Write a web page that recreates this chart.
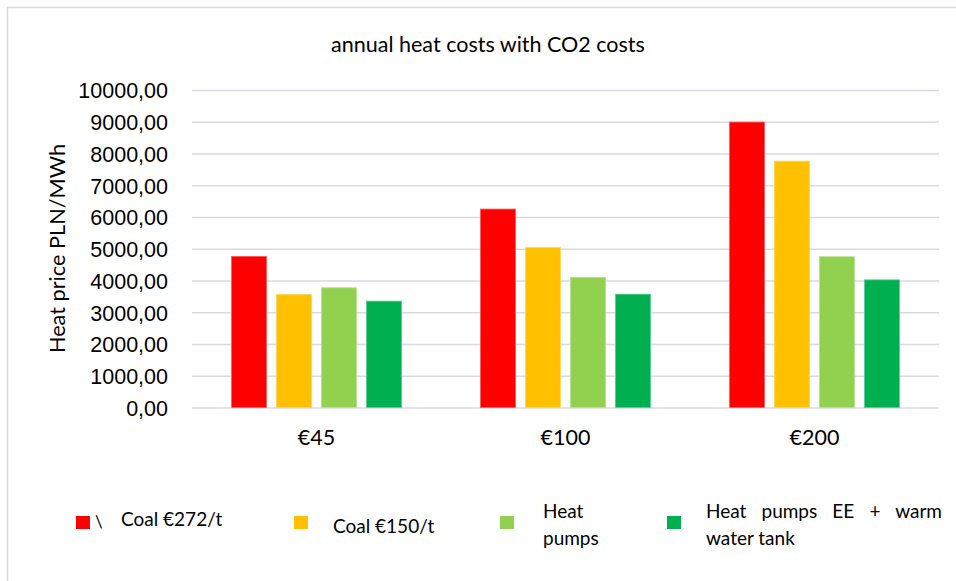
<!DOCTYPE html>
<html>
<head>
<meta charset="utf-8">
<script src="https://cdn.jsdelivr.net/npm/d3@7"></script>
<style>
  body { margin: 0; background: #fff; }
  svg { display: block; font-family: Lato, "Noto Sans", sans-serif; fill: #000; }
</style>
</head>
<body>
<div class="container_graph"></div>
<script>
const categories = ["€45", "€100", "€200"];
const seriesNames = ["Coal €272/t", "Coal €150/t", "Heat pumps", "Heat pumps EE + warm water tank"];
const coal272 = [4760, 6250, 8990];
const coal150 = [3560, 5040, 7760];
const heatPumps = [3770, 4100, 4750];
const heatPumpsTank = [3350, 3570, 4020];
const yTicks = [0, 1000, 2000, 3000, 4000, 5000, 6000, 7000, 8000, 9000, 10000];
const colors = ["#ff0000", "#ffc000", "#92d050", "#00b050"];

const seriesValues = [coal272, coal150, heatPumps, heatPumpsTank];
const width = 956;
const height = 581;
const margin = { top: 90, right: 17, bottom: 173.5, left: 192 };

const svg = d3
  .select(".container_graph")
  .append("svg")
  .attr("width", width)
  .attr("height", height);

// chart area border (only top and left visible)
svg
  .append("rect")
  .attr("x", 7.5)
  .attr("y", 7.5)
  .attr("width", width)
  .attr("height", height)
  .attr("fill", "none")
  .attr("stroke", "#d9d9e6")
  .attr("stroke-width", 1.5);

const x0 = d3
  .scaleBand()
  .domain(categories)
  .range([margin.left, width - margin.right]);

const x1 = d3
  .scaleBand()
  .domain(seriesNames)
  .range([39.5, 209.5])
  .paddingInner(10 / 45);

const y = d3
  .scaleLinear()
  .domain([0, 10000])
  .range([height - margin.bottom, margin.top]);

const fmt = (v) => d3.format(".2f")(v).replace(".", ",");

// gridlines + y labels
const yAxis = d3
  .axisLeft(y)
  .tickValues(yTicks)
  .tickSize(-(width - margin.right - margin.left))
  .tickPadding(24)
  .tickFormat(fmt);

const gy = svg
  .append("g")
  .attr("transform", `translate(${margin.left},0)`)
  .call(yAxis);
gy.select(".domain").remove();
gy.selectAll(".tick line").attr("stroke", "#d9d9e6").attr("stroke-width", 1.5);
gy.selectAll(".tick text")
  .attr("fill", "#000")
  .style("font-size", "21.5px")
  .attr("dy", "0.36em");

// bars
const groups = svg
  .selectAll(".group")
  .data(categories)
  .enter()
  .append("g")
  .attr("class", "group")
  .attr("transform", (d) => `translate(${x0(d)},0)`);

groups
  .selectAll("rect")
  .data((d, i) => seriesNames.map((s, j) => ({ s, j, v: seriesValues[j][i] })))
  .enter()
  .append("rect")
  .attr("x", (d) => x1(d.s))
  .attr("y", (d) => y(d.v))
  .attr("width", x1.bandwidth())
  .attr("height", (d) => y(0) - y(d.v))
  .attr("fill", (d) => colors[d.j])
  .attr("stroke", (d) => d3.interpolateRgb(colors[d.j], "#fff")(0.35))
  .attr("stroke-width", 0.8);

// x labels
svg
  .selectAll(".xlabel")
  .data(categories)
  .enter()
  .append("text")
  .attr("class", "xlabel")
  .attr("x", (d) => x0(d) + x0.bandwidth() / 2)
  .attr("y", 445)
  .attr("text-anchor", "middle")
  .style("font-size", "21.5px")
  .text((d) => d);

// title
svg
  .append("text")
  .attr("x", 488)
  .attr("y", 52)
  .attr("text-anchor", "middle")
  .style("font-size", "21.5px")
  .text("annual heat costs with CO2 costs");

// y axis label
svg
  .append("text")
  .attr("transform", `translate(65, 248.5) rotate(-90)`)
  .attr("text-anchor", "middle")
  .style("font-size", "21.7px")
  .text("Heat price PLN/MWh");

// legend
const legendItems = [
  { sx: 76, sy: 516, lines: [{ x: 121, y: 526, t: "Coal €272/t" }], extra: true },
  { sx: 294, sy: 516, lines: [{ x: 333, y: 533, t: "Coal €150/t" }] },
  { sx: 500, sy: 516, lines: [{ x: 543, y: 518, t: "Heat" }, { x: 543, y: 545, t: "pumps" }] },
  {
    sx: 667,
    sy: 516,
    lines: [
      { x: 706, y: 518, t: "Heat pumps EE + warm", justify: 942 },
      { x: 706, y: 545, t: "water tank" },
    ],
  },
];

const legend = svg.append("g").attr("id", "legend");
legendItems.forEach((item, i) => {
  const g = legend.append("g");
  g.append("rect")
    .attr("x", item.sx)
    .attr("y", item.sy)
    .attr("width", 14)
    .attr("height", 13)
    .attr("fill", colors[i]);
  if (item.extra) {
    g.append("text")
      .attr("x", 95)
      .attr("y", 528)
      .style("font-size", "17px")
      .text("\\");
  }
  item.lines.forEach((l) => {
    const t = g
      .append("text")
      .attr("x", l.x)
      .attr("y", l.y)
      .style("font-size", "19px")
      .text(l.t);
    if (l.justify) {
      const w = t.node().getComputedTextLength();
      const gaps = l.t.split(" ").length - 1;
      t.style("word-spacing", `${(l.justify - l.x - w) / gaps}px`);
    }
  });
});
</script>
</body>
</html>
